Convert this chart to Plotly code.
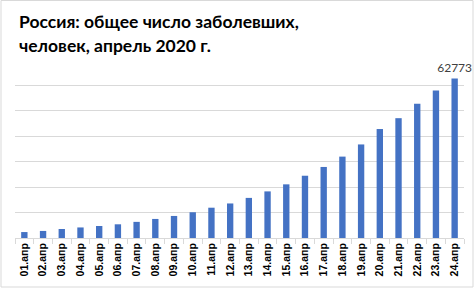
import plotly.graph_objects as go

categories = ["01.апр", "02.апр", "03.апр", "04.апр", "05.апр", "06.апр", "07.апр", "08.апр",
              "09.апр", "10.апр", "11.апр", "12.апр", "13.апр", "14.апр", "15.апр", "16.апр",
              "17.апр", "18.апр", "19.апр", "20.апр", "21.апр", "22.апр", "23.апр", "24.апр"]
cases = [2337, 2777, 3548, 4149, 4731, 5389, 6343, 7497, 8672, 10131, 11917, 13584,
         15770, 18328, 21102, 24490, 27938, 32008, 36793, 42853, 47121, 52763, 57999, 62773]
labels = [""] * (len(cases) - 1) + [str(cases[-1])]
title_lines = ["Россия: общее число заболевших,", "человек, апрель 2020 г."]

W, H = 475, 289
L, R, T, B = 15, 11, 60, 51
pw, ph = W - L - R, H - T - B

fig = go.Figure(go.Bar(
    x=categories, y=cases, marker_color="#4472C4", marker_line_width=0,
    text=labels, textposition="outside", cliponaxis=False, constraintext="none",
    textfont=dict(family="Lato", size=12, color="#404040"),
))

def px2x(p):
    return (p - L) / pw

def px2y(p):
    return 1 - (p - T) / ph

annotations = []
for i, line in enumerate(title_lines):
    annotations.append(dict(
        text="<b>" + line + "</b>", xref="paper", yref="paper",
        x=px2x(17), y=px2y(21.5 + 24 * i), xanchor="left", yanchor="middle",
        showarrow=False, font=dict(family="Lato", size=17.5, color="#000000"),
    ))

fig.update_layout(
    width=W, height=H,
    margin=dict(l=L, r=R, t=T, b=B),
    paper_bgcolor="white", plot_bgcolor="white",
    bargap=0.66,
    showlegend=False,
    annotations=annotations,
    xaxis=dict(
        type="category", tickangle=-90, tickson="boundaries",
        ticks="outside", ticklen=5, tickcolor="#d9d9d9",
        showline=True, linecolor="#d9d9d9", linewidth=1,
        showgrid=False,
        tickmode="array", tickvals=categories,
        ticktext=["<b>" + c + "</b>" for c in categories],
        tickfont=dict(family="Liberation Sans", size=10.5, color="#000000"),
    ),
    yaxis=dict(
        range=[0, 70000], dtick=10000, showticklabels=False,
        showgrid=True, gridcolor="#d9d9d9", gridwidth=1,
        zeroline=False, showline=False,
    ),
    shapes=[dict(type="rect", xref="paper", yref="paper",
                 x0=px2x(1), x1=px2x(W - 2), y0=px2y(H - 2), y1=px2y(0.5),
                 line=dict(color="#d9d9d9", width=1), fillcolor="rgba(0,0,0,0)")],
)

fig.write_html("out.html")
